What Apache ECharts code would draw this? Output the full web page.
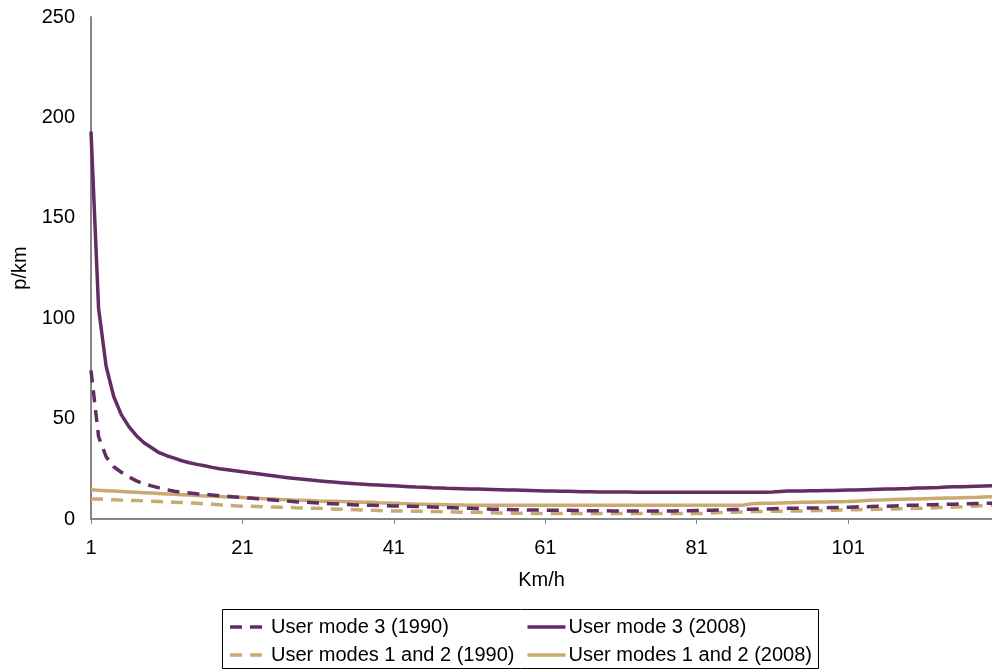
<!DOCTYPE html>
<html>
<head>
<meta charset="utf-8">
<script src="https://cdn.jsdelivr.net/npm/echarts@6/dist/echarts.min.js"></script>
<style>
html,body{margin:0;padding:0;background:#fff;}
#chart{width:992px;height:670px;}
</style>
</head>
<body>
<div id="chart"></div>
<script>
// Categories: speed in km/h, 1..120
var categories = [];
for (var k = 1; k <= 120; k++) { categories.push(String(k)); }

var yTicks = [0, 50, 100, 150, 200, 250];

var seriesNames = [
  'User mode 3 (1990)',
  'User mode 3 (2008)',
  'User modes 1 and 2 (1990)',
  'User modes 1 and 2 (2008)'
];

var mode3_1990 = [
  74, 41, 31, 26, 23.3, 21, 19, 17.5, 16.5, 15.5,
  14.6, 13.8, 13.3, 13, 12.6, 12.3, 11.9, 11.6, 11.3, 11,
  10.7, 10.4, 10.1, 9.8, 9.5, 9.2, 8.9, 8.6, 8.4, 8.2,
  8, 7.8, 7.6, 7.4, 7.2, 7, 6.9, 6.8, 6.7, 6.6,
  6.5, 6.4, 6.3, 6.2, 6.1, 6, 5.9, 5.7, 5.6, 5.4,
  5.3, 5.2, 5, 4.9, 4.8, 4.7, 4.6, 4.6, 4.5, 4.5,
  4.4, 4.4, 4.3, 4.3, 4.2, 4.2, 4.1, 4.1, 4.1, 4,
  4, 4, 4, 4, 4, 4, 4, 4, 4.1, 4.1,
  4.2, 4.3, 4.4, 4.5, 4.6, 4.7, 4.8, 4.9, 5, 5,
  5.1, 5.2, 5.3, 5.3, 5.4, 5.5, 5.5, 5.6, 5.7, 5.8,
  5.9, 6, 6.1, 6.2, 6.3, 6.4, 6.5, 6.6, 6.8, 6.9,
  7, 7.1, 7.2, 7.3, 7.4, 7.5, 7.6, 7.7, 7.8, 7.9
];

var mode3_2008 = [
  193, 105, 76, 61, 52, 46, 41.5, 38, 35.5, 33,
  31.5, 30.3, 29, 28, 27.2, 26.5, 25.7, 25, 24.5, 24,
  23.5, 23, 22.5, 22, 21.5, 21, 20.6, 20.2, 19.8, 19.4,
  19, 18.7, 18.4, 18.1, 17.8, 17.5, 17.3, 17.1, 16.9, 16.7,
  16.5, 16.3, 16.1, 15.9, 15.8, 15.6, 15.5, 15.3, 15.2, 15.1,
  15, 14.9, 14.8, 14.7, 14.6, 14.5, 14.4, 14.3, 14.2, 14.1,
  14, 13.9, 13.8, 13.8, 13.7, 13.6, 13.6, 13.5, 13.5, 13.4,
  13.4, 13.4, 13.3, 13.3, 13.3, 13.3, 13.3, 13.3, 13.3, 13.3,
  13.3, 13.3, 13.3, 13.3, 13.3, 13.3, 13.3, 13.3, 13.3, 13.3,
  13.4, 13.7, 13.9, 14, 14, 14.1, 14.1, 14.2, 14.2, 14.3,
  14.4, 14.5, 14.6, 14.7, 14.8, 14.9, 15, 15.1, 15.2, 15.4,
  15.5, 15.6, 15.7, 15.9, 16, 16.1, 16.2, 16.3, 16.4, 16.5
];

var modes12_1990 = [
  10, 9.9, 9.7, 9.6, 9.4, 9.3, 9.2, 9, 8.9, 8.7,
  8.6, 8.4, 8.2, 8, 7.8, 7.6, 7.4, 7.1, 6.9, 6.6,
  6.4, 6.3, 6.2, 6.1, 6, 5.9, 5.8, 5.6, 5.5, 5.4,
  5.3, 5.1, 5, 4.9, 4.7, 4.6, 4.4, 4.3, 4.2, 4.1,
  4, 4, 3.9, 3.9, 3.8, 3.7, 3.7, 3.6, 3.5, 3.4,
  3.3, 3.3, 3.2, 3.1, 3, 3, 2.9, 2.9, 2.8, 2.8,
  2.7, 2.7, 2.7, 2.7, 2.7, 2.7, 2.7, 2.7, 2.7, 2.7,
  2.7, 2.7, 2.7, 2.7, 2.7, 2.7, 2.7, 2.7, 2.7, 2.7,
  2.7, 2.7, 3, 3.2, 3.3, 3.4, 3.5, 3.6, 3.7, 3.8,
  3.8, 3.9, 3.9, 4, 4, 4.1, 4.2, 4.3, 4.4, 4.5,
  4.6, 4.6, 4.7, 4.7, 4.8, 4.9, 5, 5.1, 5.2, 5.3,
  5.4, 5.5, 5.7, 5.8, 6, 6.1, 6.3, 6.5, 6.7, 6.9
];

var modes12_2008 = [
  14.6, 14.3, 14.1, 13.9, 13.7, 13.5, 13.3, 13.1, 12.9, 12.7,
  12.5, 12.3, 12.1, 11.9, 11.7, 11.5, 11.4, 11.2, 11, 10.9,
  10.7, 10.5, 10.3, 10.1, 9.9, 9.7, 9.6, 9.4, 9.3, 9.2,
  9, 8.9, 8.8, 8.7, 8.6, 8.5, 8.4, 8.3, 8.1, 8,
  7.9, 7.7, 7.6, 7.4, 7.3, 7.2, 7.2, 7.1, 7, 7,
  6.9, 6.9, 6.8, 6.8, 6.8, 6.8, 6.8, 6.8, 6.8, 6.8,
  6.8, 6.8, 6.8, 6.8, 6.8, 6.8, 6.8, 6.8, 6.8, 6.8,
  6.8, 6.8, 6.8, 6.8, 6.8, 6.8, 6.8, 6.8, 6.8, 6.8,
  6.8, 6.8, 6.8, 6.8, 6.8, 6.8, 6.8, 7.5, 7.7, 7.8,
  7.9, 8, 8.1, 8.2, 8.3, 8.4, 8.5, 8.5, 8.6, 8.6,
  8.7, 8.9, 9.1, 9.3, 9.4, 9.6, 9.7, 9.8, 9.9, 10,
  10.1, 10.2, 10.3, 10.4, 10.5, 10.6, 10.7, 10.8, 11, 11.1
];

var PURPLE = '#612d63';
var TAN = '#c8aa72';
var FONT = 'Liberation Sans, Arial, sans-serif';
var AXIS_GRAY = '#868686';
var LINE_W = 3.5;
var DASH = [12, 8];

var chart = echarts.init(document.getElementById('chart'), null, {renderer: 'canvas'});

function lineSeries(name, data, color, dashed) {
  return {
    name: name,
    type: 'line',
    data: data,
    symbol: 'none',
    showSymbol: false,
    smooth: false,
    animation: false,
    lineStyle: {color: color, width: LINE_W, type: dashed ? DASH : 'solid'},
    itemStyle: {color: color}
  };
}

// Legend drawn as graphic items (two columns, two rows) inside a bordered box
var legendItems = [
  {name: seriesNames[0], color: PURPLE, dashed: true,  x: 230,   y: 627},
  {name: seriesNames[1], color: PURPLE, dashed: false, x: 527.5, y: 627},
  {name: seriesNames[2], color: TAN,    dashed: true,  x: 230,   y: 655},
  {name: seriesNames[3], color: TAN,    dashed: false, x: 527.5, y: 655}
];
var legendGraphics = [
  {
    type: 'rect',
    shape: {x: 222.5, y: 609.5, width: 596, height: 59},
    style: {fill: 'none', stroke: '#000', lineWidth: 1},
    silent: true
  }
];
legendItems.forEach(function (it) {
  legendGraphics.push({
    type: 'line',
    shape: {x1: it.x, y1: it.y, x2: it.x + 38, y2: it.y},
    style: {stroke: it.color, lineWidth: LINE_W, lineDash: it.dashed ? DASH : null},
    silent: true
  });
  legendGraphics.push({
    type: 'text',
    x: it.x + 41,
    y: it.y,
    style: {text: it.name, fill: '#000', font: '20px ' + FONT, textVerticalAlign: 'middle', verticalAlign: 'middle'},
    silent: true
  });
});

var option = {
  animation: false,
  backgroundColor: '#ffffff',
  grid: {left: 91, top: 17, right: -5, bottom: 151, containLabel: false},
  xAxis: {
    type: 'category',
    data: categories,
    boundaryGap: false,
    name: 'Km/h',
    nameLocation: 'middle',
    nameGap: 51,
    nameTextStyle: {fontFamily: FONT, fontSize: 20, color: '#000'},
    axisLine: {show: true, lineStyle: {color: AXIS_GRAY, width: 2}},
    axisTick: {show: true, interval: 19, length: 5, alignWithLabel: true, lineStyle: {color: AXIS_GRAY, width: 1}},
    axisLabel: {interval: 19, margin: 19, fontFamily: FONT, fontSize: 20, color: '#000'},
    splitLine: {show: false}
  },
  yAxis: {
    type: 'value',
    min: yTicks[0],
    max: yTicks[yTicks.length - 1],
    interval: 50,
    name: 'p/km',
    nameLocation: 'middle',
    nameRotate: 90,
    nameGap: 45,
    nameTextStyle: {fontFamily: FONT, fontSize: 20, color: '#000'},
    axisLine: {show: true, lineStyle: {color: AXIS_GRAY, width: 2}},
    axisTick: {show: false},
    axisLabel: {margin: 16, fontFamily: FONT, fontSize: 20, color: '#000'},
    splitLine: {show: false}
  },
  graphic: legendGraphics,
  series: [
    lineSeries(seriesNames[2], modes12_1990, TAN, true),
    lineSeries(seriesNames[3], modes12_2008, TAN, false),
    lineSeries(seriesNames[0], mode3_1990, PURPLE, true),
    lineSeries(seriesNames[1], mode3_2008, PURPLE, false)
  ]
};

chart.setOption(option);
</script>
</body>
</html>
